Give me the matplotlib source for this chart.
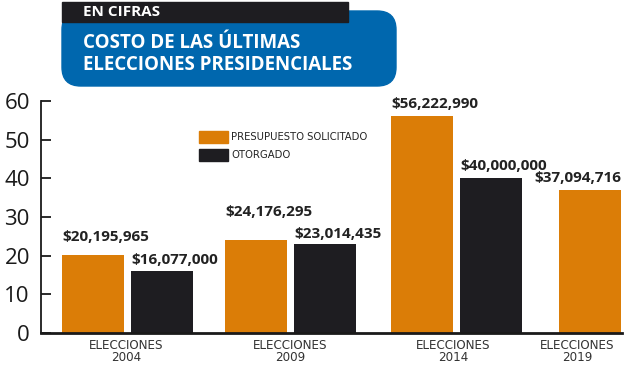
import matplotlib.pyplot as plt
from matplotlib.patches import FancyBboxPatch, Rectangle

# data (millions of pesos)
years = ['2004', '2009', '2014', '2019']
solicitado = [20.195965, 24.176295, 56.222990, 37.094716]
otorgado = [16.077000, 23.014435, 40.000000, None]
solicitado_txt = ['$20,195,965', '$24,176,295', '$56,222,990', '$37,094,716']
otorgado_txt = ['$16,077,000', '$23,014,435', '$40,000,000', None]

orange = '#DB7D07'
black = '#1E1D21'
blue = '#0067AE'

narrow = dict(family='DejaVu Sans', stretch='condensed')

fig = plt.figure(figsize=(6.27, 3.7), dpi=100)
ax = fig.add_axes([41 / 627, 37 / 370, 581 / 627, 232 / 370])

# layout: group centers, bar width and gap
group_x = [0.0, 1.0, 2.02, 2.84]
w = 0.38
gap = 0.043

for i, yr in enumerate(years):
    if otorgado[i] is None:
        xs = group_x[i]
        ax.bar(xs, solicitado[i], w, color=orange)
        ax.annotate(solicitado_txt[i], (xs + w / 2, solicitado[i]), xytext=(0, 3),
                    textcoords='offset points', ha='right', va='bottom',
                    fontsize=11, fontweight='bold', color='#222222', family='Open Sans')
    else:
        xo = group_x[i] - (w + gap) / 2
        xb = group_x[i] + (w + gap) / 2
        ax.bar(xo, solicitado[i], w, color=orange)
        ax.bar(xb, otorgado[i], w, color=black)
        off_o = [8, 15, 3, 0][i]
        off_b = [3, 2, 4, 0][i]
        ax.annotate(solicitado_txt[i], (xo - w / 2, solicitado[i]), xytext=(0, off_o),
                    textcoords='offset points', ha='left', va='bottom',
                    fontsize=11, fontweight='bold', color='#222222', family='Open Sans')
        ax.annotate(otorgado_txt[i], (xb - w / 2, otorgado[i]), xytext=(0, off_b),
                    textcoords='offset points', ha='left', va='bottom',
                    fontsize=11, fontweight='bold', color='#222222', family='Open Sans')

label_x = [-0.01, 1.0, 2.0, 2.76]
for lx, yr in zip(label_x, years):
    ax.text(lx, -1.5, 'ELECCIONES\n' + yr, ha='center', va='top', fontsize=9.5,
            color='#333333', linespacing=0.95, **narrow)

ax.set_xlim(-0.53, 3.034)
ax.set_ylim(0, 60)
ax.set_yticks(range(0, 61, 10))
ax.set_xticks([])
ax.tick_params(axis='y', direction='in', length=7, width=1.3, labelsize=16,
               pad=8, colors='#1a1a1a')
for lab in ax.get_yticklabels():
    lab.set_family('Open Sans')
for s in ['top', 'right']:
    ax.spines[s].set_visible(False)
ax.spines['left'].set_linewidth(1.3)
ax.spines['bottom'].set_linewidth(2)
ax.spines['left'].set_color('#1a1a1a')
ax.spines['bottom'].set_color('#1a1a1a')

# legend
fig.patches.append(Rectangle((199 / 627, 1 - 143 / 370), 29 / 627, 12 / 370,
                             transform=fig.transFigure, color=orange))
fig.patches.append(Rectangle((199 / 627, 1 - 161 / 370), 29 / 627, 12 / 370,
                             transform=fig.transFigure, color=black))
fig.text(231 / 627, 1 - 137 / 370, 'PRESUPUESTO SOLICITADO', fontsize=8,
         va='center', color='#222222', **narrow)
fig.text(231 / 627, 1 - 155 / 370, 'OTORGADO', fontsize=8,
         va='center', color='#222222', **narrow)

# header
fig.patches.append(FancyBboxPatch((62 / 627, 1 - 86 / 370), 334 / 627, 75 / 370,
                                  boxstyle='round,pad=0,rounding_size=0.03',
                                  transform=fig.transFigure, color=blue,
                                  mutation_aspect=627 / 370))
fig.patches.append(Rectangle((62 / 627, 1 - 22 / 370), 286 / 627, 20 / 370,
                             transform=fig.transFigure, color=black))
fig.text(83 / 627, 1 - 12 / 370, 'EN CIFRAS', fontsize=11, fontweight='bold',
         color='white', va='center', family='Open Sans')
fig.text(83 / 627, 1 - 54 / 370, 'COSTO DE LAS ÚLTIMAS\nELECCIONES PRESIDENCIALES',
         fontsize=13.5, fontweight='bold', color='white', va='center',
         family='Open Sans', linespacing=1.1)

fig.savefig('out.png', dpi=100)
